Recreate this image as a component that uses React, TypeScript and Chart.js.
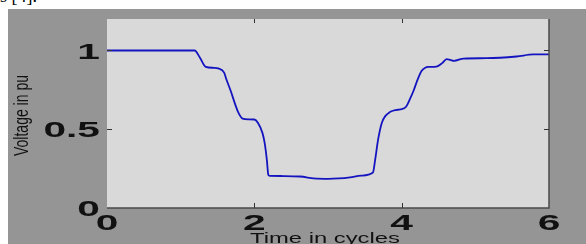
import React, { useEffect, useRef } from "react";
import { Chart, registerables } from "chart.js";

Chart.register(...registerables);

const timeCycles = [
  0, 1.19, 1.26, 1.34, 1.45, 1.51, 1.59, 1.62, 1.68, 1.74, 1.78, 1.84, 1.92, 2.0, 2.05, 2.11, 2.14,
  2.17, 2.19, 2.21, 2.4, 2.62, 2.85, 3.0, 3.15, 3.3, 3.45, 3.61, 3.64, 3.68, 3.73, 3.78, 3.84, 3.92,
  3.98, 4.06, 4.11, 4.16, 4.22, 4.27, 4.32, 4.36, 4.47, 4.55, 4.61, 4.66, 4.71, 4.84, 5.15, 5.56,
  5.79, 6.0,
];
const voltagePu = [
  1.0, 1.0, 0.956, 0.896, 0.89, 0.886, 0.86, 0.817, 0.743, 0.658, 0.609, 0.568, 0.563, 0.562, 0.54,
  0.477, 0.413, 0.306, 0.21, 0.204, 0.203, 0.2, 0.186, 0.185, 0.188, 0.195, 0.205, 0.225, 0.306,
  0.434, 0.54, 0.585, 0.609, 0.622, 0.626, 0.643, 0.69, 0.743, 0.82, 0.87, 0.89, 0.896, 0.898, 0.92,
  0.945, 0.94, 0.934, 0.949, 0.951, 0.962, 0.975, 0.975,
];
const xTickValues = [0, 2, 4, 6];
const xTickLabels = ["0", "2", "4", "6"];
const yTickValues = [0, 0.5, 1];
const yTickLabels = ["0", "0.5", "1"];
const xTitle = "Time in cycles";
const yTitle = "Voltage in pu";
const captionFragment = "s [4].";

export default function App() {
  const ref = useRef<HTMLCanvasElement>(null);

  useEffect(() => {
    document.body.style.margin = "0";
    const canvas = ref.current!;
    const decor = {
      id: "matlabDecor",
      beforeDatasetsDraw(chart: any) {
        const { ctx, chartArea: a } = chart;
        ctx.save();
        ctx.fillStyle = "#d9d9d9";
        ctx.fillRect(a.left, a.top, a.right - a.left, a.bottom - a.top);
        ctx.restore();
      },
      afterDatasetsDraw(chart: any) {
        const { ctx, chartArea: a } = chart;
        const xs = chart.scales.x;
        const ys = chart.scales.y;
        ctx.save();
        // border (bottom & right)
        ctx.strokeStyle = "#4a4a4a";
        ctx.lineWidth = 1.5;
        ctx.beginPath();
        ctx.moveTo(a.left, a.bottom);
        ctx.lineTo(a.right, a.bottom);
        ctx.lineTo(a.right, a.top);
        ctx.stroke();
        // inward ticks
        ctx.strokeStyle = "#333";
        ctx.lineWidth = 1;
        ctx.beginPath();
        xTickValues.forEach((v) => {
          if (v === xs.min || v === xs.max) return;
          const px = Math.round(xs.getPixelForValue(v)) + 0.5;
          ctx.moveTo(px, a.bottom);
          ctx.lineTo(px, a.bottom - 5);
          ctx.moveTo(px, a.top);
          ctx.lineTo(px, a.top + 4);
        });
        yTickValues.forEach((v) => {
          if (v === ys.min) return;
          const py = Math.round(ys.getPixelForValue(v)) + 0.5;
          ctx.moveTo(a.left, py);
          ctx.lineTo(a.left + 5, py);
          ctx.moveTo(a.right, py);
          ctx.lineTo(a.right - 5, py);
        });
        ctx.stroke();

        // tick labels (horizontally stretched like the source figure)
        ctx.fillStyle = "#111";
        ctx.font = "bold 22px 'Liberation Sans', Arial, sans-serif";
        ctx.textBaseline = "alphabetic";
        const sx = 1.85;
        yTickValues.forEach((v, i) => {
          const py = ys.getPixelForValue(v);
          ctx.save();
          ctx.translate(a.left - 7, py + 8);
          ctx.scale(sx, 1);
          ctx.textAlign = "right";
          ctx.fillText(yTickLabels[i], 0, 0);
          ctx.restore();
        });
        xTickValues.forEach((v, i) => {
          const px = xs.getPixelForValue(v);
          ctx.save();
          ctx.translate(px, a.bottom + 22);
          ctx.scale(sx, 1);
          ctx.textAlign = "center";
          ctx.fillText(xTickLabels[i], 0, 0);
          ctx.restore();
        });

        // axis titles
        ctx.font = "14px 'Liberation Sans', Arial, sans-serif";
        ctx.save();
        ctx.translate((a.left + a.right) / 2 - 3, a.bottom + 35);
        ctx.scale(1.7, 1);
        ctx.textAlign = "center";
        ctx.fillText(xTitle, 0, 0);
        ctx.restore();

        ctx.save();
        ctx.translate(20, (a.top + a.bottom) / 2 + 2);
        ctx.rotate(-Math.PI / 2);
        ctx.scale(1, 1.4);
        ctx.textAlign = "center";
        ctx.fillText(yTitle, 0, 0);
        ctx.restore();

        ctx.restore();
      },
    };

    const chart = new Chart(canvas, {
      type: "line",
      data: {
        datasets: [
          {
            data: timeCycles.map((t, i) => ({ x: t, y: voltagePu[i] })),
            borderColor: "#1414c0",
            borderWidth: 1.8,
            pointRadius: 0,
            cubicInterpolationMode: "monotone",
            fill: false,
          },
        ],
      },
      options: {
        animation: false,
        responsive: false,
        devicePixelRatio: 1,
        events: [],
        layout: { padding: { left: 99, top: 10, right: 37, bottom: 36 } },
        plugins: { legend: { display: false }, tooltip: { enabled: false } },
        scales: {
          x: { type: "linear", min: 0, max: 6, display: false },
          y: { type: "linear", min: 0, max: 1.2, display: false },
        },
      } as any,
      plugins: [decor],
    });
    return () => chart.destroy();
  }, []);

  return (
    <div style={{ position: "relative", width: 586, height: 244, overflow: "hidden", background: "#fff" }}>
      <div
        style={{
          position: "absolute",
          left: 0,
          top: -13,
          font: "18px 'Liberation Serif', serif",
          lineHeight: "18px",
          whiteSpace: "pre",
          color: "#000",
        }}
      >
        {captionFragment}
      </div>
      <canvas
        ref={ref}
        width={578}
        height={235}
        style={{ position: "absolute", left: 8, top: 9, width: 578, height: 235, background: "#959595" }}
      />
    </div>
  );
}
